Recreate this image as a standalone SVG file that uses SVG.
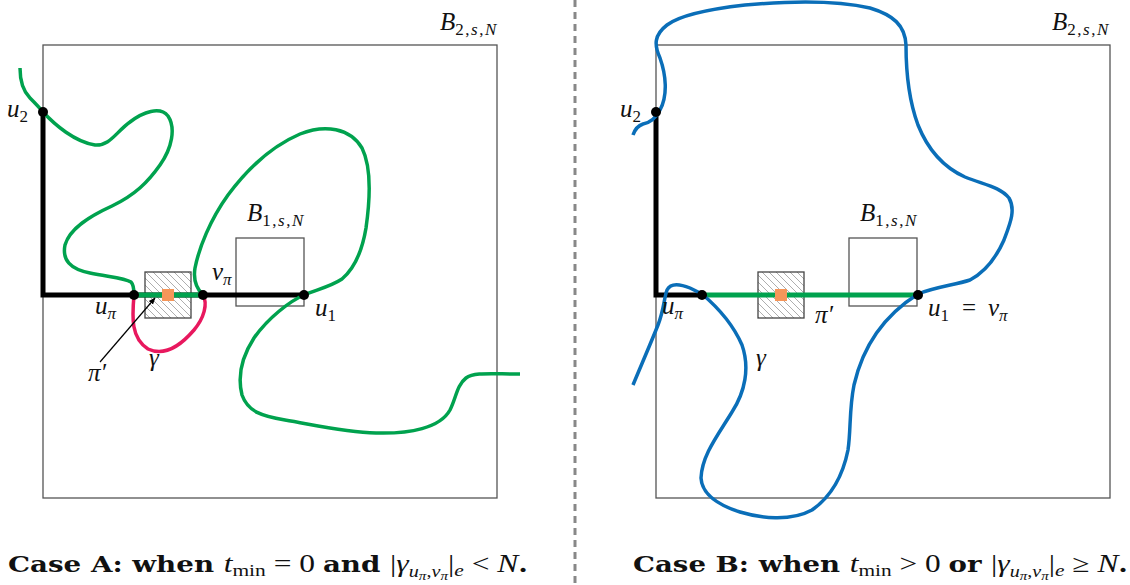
<svg xmlns="http://www.w3.org/2000/svg" width="1130" height="585" viewBox="0 0 1130 585">
<style>
.box{fill:none;stroke:#555;stroke-width:1.3}
.hb{fill:url(#hatch);stroke:#444;stroke-width:1.3}
.thick{fill:none;stroke:#000;stroke-width:5;stroke-linejoin:miter}
.gseg{fill:none;stroke:#00A24E;stroke-width:5}
.gc{fill:none;stroke:#00A24E;stroke-width:3.5;stroke-linecap:butt}
.rc{fill:none;stroke:#E8185E;stroke-width:3.5}
.bc{fill:none;stroke:#0A6EB8;stroke-width:3.5}
.dot{fill:#000}
.org{fill:#F5965A}
.m{font-family:"Liberation Serif",serif;font-style:italic;font-size:25px;fill:#111}
.sub{font-size:17px}
.up{font-style:normal}
.cap{font-family:"DejaVu Serif",serif;font-weight:bold;font-size:22px;fill:#111}
.mi{font-family:"Liberation Serif",serif;font-style:italic;font-weight:normal}
.mn{font-family:"Liberation Serif",serif;font-style:normal;font-weight:normal}
.f25{font-size:25px}
.f17{font-size:17px}
.f16{font-size:16px}
.f12{font-size:12px}
</style>
<defs>
<pattern id="hatch" patternUnits="userSpaceOnUse" width="7" height="7">
<rect width="7" height="7" fill="#fff"/>
<path d="M-1,-1 L8,8 M-8,-1 L1,8 M6,-1 L15,8" stroke="#999" stroke-width="0.8"/>
</pattern>
<marker id="ah" viewBox="0 0 10 10" refX="9" refY="5" markerWidth="7" markerHeight="7" orient="auto" markerUnits="userSpaceOnUse">
<path d="M0,1 L10,5 L0,9 Z" fill="#000"/>
</marker>
</defs>

<g id="divider">
<line x1="575" y1="0" x2="575" y2="585" stroke="#888" stroke-width="3" stroke-dasharray="7 5"/>
</g>

<!-- Case A -->
<g id="caseA">
<g id="A-B2"><rect class="box" x="43" y="45" width="454" height="453"/></g>
<g id="A-B1"><rect class="box" x="236" y="238" width="68" height="68"/></g>
<g id="A-hatch"><rect class="hb" x="145" y="272" width="46" height="46"/></g>
<g id="A-paths">
<path class="thick" d="M43,112 L43,295 L304,295"/>
<path class="gseg" d="M134,295 L203,295"/>
<path class="rc" d="M134,295 C132,318 131,338 148,349 C165,357 182,344 194,330 C204,318 208,304 203,295"/>
<path class="gc" d="M20,68 C20,80 22,90 30,98 C38,106 43,112 43,112 C55,125 75,142 95,145 C110,146 116,132 130,122 C143,112 160,106 168,116 C176,128 172,148 160,165 C148,182 135,195 112,206 C90,216 70,228 65,245 C62,260 70,269 90,273 C110,277 125,278 131,282 C134,285 134,290 134,295"/>
<path class="gc" d="M203,295 C196,288 193,280 195,268 C199,248 210,220 228,195 C248,168 272,146 300,134 C325,124 350,128 362,148 C372,168 370,200 366,228 C362,252 355,268 342,279 C330,287 315,290 304,295 C290,301 268,318 254,338 C243,355 237,375 242,395 C248,412 262,416 285,420 C315,425 345,432 376,433 C410,434 440,428 450,410 C456,398 457,385 466,378 C474,372 490,374 520,374"/>
<line x1="100" y1="362" x2="155" y2="298" stroke="#000" stroke-width="1.2" marker-end="url(#ah)"/>
</g>
<g id="A-orange"><rect class="org" x="162" y="289" width="12" height="12"/></g>
<g id="A-dots">
<circle class="dot" cx="43" cy="112" r="5"/>
<circle class="dot" cx="134" cy="295" r="5"/>
<circle class="dot" cx="203" cy="295" r="5"/>
<circle class="dot" cx="304" cy="295" r="5"/>
</g>
<g id="A-labels">
<text class="m" x="440" y="30">B<tspan class="sub up" dy="5" letter-spacing="1.5">2,</tspan><tspan class="sub" letter-spacing="1.5">s</tspan><tspan class="sub up" letter-spacing="1.5">,</tspan><tspan class="sub">N</tspan></text>
<text class="m" x="247" y="221">B<tspan class="sub up" dy="5" letter-spacing="1.5">1,</tspan><tspan class="sub" letter-spacing="1.5">s</tspan><tspan class="sub up" letter-spacing="1.5">,</tspan><tspan class="sub">N</tspan></text>
<text class="m" x="7" y="117">u<tspan class="sub up" dy="5">2</tspan></text>
<text class="m" x="95" y="314">u<tspan class="sub" dy="5">π</tspan></text>
<text class="m" x="212" y="280">v<tspan class="sub" dy="5">π</tspan></text>
<text class="m" x="315" y="316">u<tspan class="sub up" dy="5">1</tspan></text>
<text class="m" x="88" y="381">π′</text>
<text class="m" x="149" y="366">γ</text>
</g>
</g>

<!-- Case B -->
<g id="caseB">
<g id="B-B2"><rect class="box" x="656" y="45" width="454" height="453"/></g>
<g id="B-B1"><rect class="box" x="849" y="238" width="68" height="68"/></g>
<g id="B-hatch"><rect class="hb" x="758" y="272" width="46" height="46"/></g>
<g id="B-paths">
<path class="thick" d="M656,112 L656,295 L702,295"/>
<path class="gseg" d="M702,295 L918,295"/>
<path class="bc" d="M633,385 C640,368 650,345 658,325 C664,310 664,298 667,290 C670,284 678,283 690,288 L702,294 C715,305 732,322 742,345 C750,368 745,392 732,412 C718,435 702,455 701,478 C702,495 718,505 740,512 C760,518 790,522 812,510 C832,496 843,475 848,450 C851,430 849,410 854,385 C862,350 880,318 918,294 C935,287 955,285 970,280 C985,272 996,258 1004,240 C1010,224 1016,210 1009,198 C1000,187 985,185 965,177 C945,168 928,150 918,125 C908,98 906,70 906,45 C905,25 893,15 870,8 C835,0 790,1 745,5 C710,9 680,15 667,25 C654,35 654,45 660,58 C666,75 668,95 660,110 C655,120 648,123 643,124 C637,126 634,132 633,135"/>
</g>
<g id="B-orange"><rect class="org" x="775" y="289" width="12" height="12"/></g>
<g id="B-dots">
<circle class="dot" cx="656" cy="112" r="5"/>
<circle class="dot" cx="702" cy="295" r="5"/>
<circle class="dot" cx="918" cy="295" r="5"/>
</g>
<g id="B-labels">
<text class="m" x="1052" y="30">B<tspan class="sub up" dy="5" letter-spacing="1.5">2,</tspan><tspan class="sub" letter-spacing="1.5">s</tspan><tspan class="sub up" letter-spacing="1.5">,</tspan><tspan class="sub">N</tspan></text>
<text class="m" x="860" y="221">B<tspan class="sub up" dy="5" letter-spacing="1.5">1,</tspan><tspan class="sub" letter-spacing="1.5">s</tspan><tspan class="sub up" letter-spacing="1.5">,</tspan><tspan class="sub">N</tspan></text>
<text class="m" x="620" y="117">u<tspan class="sub up" dy="5">2</tspan></text>
<text class="m" x="662" y="314">u<tspan class="sub" dy="5">π</tspan></text>
<text class="m" x="815" y="323">π′</text>
<text class="m" x="756" y="366">γ</text>
<text class="m" x="928" y="316">u<tspan class="sub up" dy="5">1</tspan><tspan class="up" x="962" dy="-5">=</tspan><tspan x="988">v</tspan><tspan class="sub" dy="5">π</tspan></text>
</g>
</g>

<g id="captions">
<text class="cap" x="8" y="572" textLength="520" lengthAdjust="spacingAndGlyphs">Case A: when <tspan class="mi f25">t</tspan><tspan class="mn f17" dy="4">min</tspan><tspan class="mn f25" dy="-4"> = 0 </tspan>and <tspan class="mn f25">|</tspan><tspan class="mi f25">γ</tspan><tspan class="mi f16" dy="5">u</tspan><tspan class="mi f12" dy="3">π</tspan><tspan class="mn f16" dy="-3">,</tspan><tspan class="mi f16">v</tspan><tspan class="mi f12" dy="3">π</tspan><tspan class="mn f25" dy="-8">|</tspan><tspan class="mi f17" dy="4">e</tspan><tspan class="mn f25" dy="-4"> &lt; </tspan><tspan class="mi f25">N</tspan>.</text>
<text class="cap" x="633" y="572" textLength="495" lengthAdjust="spacingAndGlyphs">Case B: when <tspan class="mi f25">t</tspan><tspan class="mn f17" dy="4">min</tspan><tspan class="mn f25" dy="-4"> &gt; 0 </tspan>or <tspan class="mn f25">|</tspan><tspan class="mi f25">γ</tspan><tspan class="mi f16" dy="5">u</tspan><tspan class="mi f12" dy="3">π</tspan><tspan class="mn f16" dy="-3">,</tspan><tspan class="mi f16">v</tspan><tspan class="mi f12" dy="3">π</tspan><tspan class="mn f25" dy="-8">|</tspan><tspan class="mi f17" dy="4">e</tspan><tspan class="mn f25" dy="-4"> ≥ </tspan><tspan class="mi f25">N</tspan>.</text>
</g>
</svg>
